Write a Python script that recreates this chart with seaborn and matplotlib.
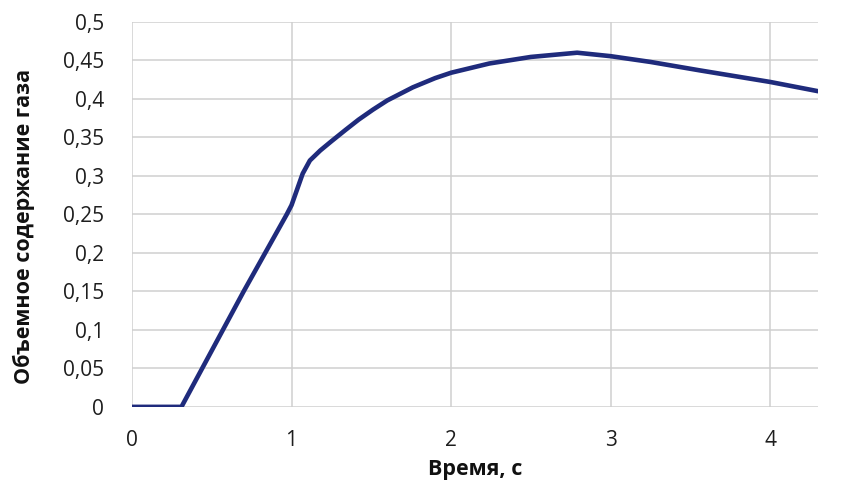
import matplotlib
matplotlib.use("Agg")
import matplotlib.pyplot as plt
import seaborn as sns
import pandas as pd

# Gas volume fraction over time
time_s = [0, 0.31, 0.44, 0.57, 0.70, 0.835, 0.97, 1.0, 1.07, 1.115, 1.18, 1.25, 1.34,
          1.42, 1.51, 1.60, 1.76, 1.90, 2.0, 2.24, 2.5, 2.79, 3.0, 3.25, 3.56, 4.0, 4.3]
gas_fraction = [0, 0, 0.05, 0.10, 0.15, 0.20, 0.25, 0.262, 0.303, 0.320, 0.333, 0.345, 0.360,
                0.373, 0.386, 0.398, 0.415, 0.427, 0.434, 0.446, 0.4545, 0.460, 0.4555, 0.448,
                0.437, 0.422, 0.410]

x_ticks = [0, 1, 2, 3, 4]
x_tick_labels = ["0", "1", "2", "3", "4"]
y_ticks = [0, 0.05, 0.10, 0.15, 0.20, 0.25, 0.30, 0.35, 0.40, 0.45, 0.50]
y_tick_labels = ["0", "0,05", "0,1", "0,15", "0,2", "0,25", "0,3", "0,35", "0,4", "0,45", "0,5"]

x_label = "Время, с"
y_label = "Объемное содержание газа"

df = pd.DataFrame({"t": time_s, "phi": gas_fraction})

sns.set_theme(style="white")
plt.rcParams["font.family"] = ["Open Sans", "DejaVu Sans"]

fig = plt.figure(figsize=(8.46, 4.98), dpi=100)
ax = fig.add_axes([0.156, 0.183, 0.811, 0.773])

sns.lineplot(data=df, x="t", y="phi", ax=ax, sort=False,
             color="#1f2b7c", linewidth=3.3, zorder=3)
ax.lines[0].set_solid_joinstyle("round")

ax.set_xlim(0, 4.3)
ax.set_ylim(0, 0.5)
ax.set_xticks(x_ticks)
ax.set_xticklabels(x_tick_labels)
ax.set_yticks(y_ticks)
ax.set_yticklabels(y_tick_labels)

ax.grid(True, color="#cfcfcf", linewidth=1.1, zorder=0)
for side in ax.spines.values():
    side.set_visible(False)

ax.tick_params(axis="both", length=0, labelsize=15, colors="#1e1e1e")
ax.tick_params(axis="y", pad=20)
ax.tick_params(axis="x", pad=17)

ax.set_xlabel(x_label, fontsize=15.5, fontweight="bold", color="#111111")
ax.set_ylabel(y_label, fontsize=15.5, fontweight="bold", color="#111111")
ax.xaxis.set_label_coords(0.5, -0.135)
ax.yaxis.set_label_coords(-0.142, 0.47)

fig.savefig("out.png", dpi=100, facecolor="white")
